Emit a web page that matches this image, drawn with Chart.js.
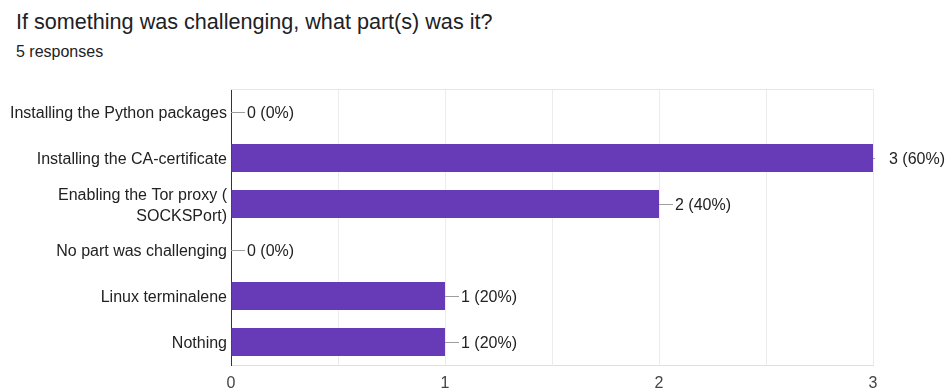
<!DOCTYPE html>
<html lang="en">
<head>
    <meta charset="UTF-8">
    <title>If something was challenging, what part(s) was it?</title>
    <script src="https://cdn.jsdelivr.net/npm/chart.js"></script>
    <style>
        * {
            margin: 0;
            padding: 0;
            box-sizing: border-box;
        }

        body {
            width: 947px;
            height: 390px;
            background: #fff;
            font-family: "Liberation Sans", Arial, sans-serif;
            position: relative;
            overflow: hidden;
        }

        .title {
            position: absolute;
            left: 16px;
            top: 9px;
            font-size: 21.6px;
            color: #202124;
        }

        .subtitle {
            position: absolute;
            left: 16px;
            top: 43px;
            font-size: 16px;
            color: #202124;
        }

        #chart {
            position: absolute;
            left: 0;
            top: 0;
        }
    </style>
</head>
<body>
    <div class="title">If something was challenging, what part(s) was it?</div>
    <div class="subtitle">5 responses</div>
    <canvas id="chart" width="947" height="390"></canvas>

    <script>
        const categories = [
            'Installing the Python packages',
            'Installing the CA-certificate',
            ['Enabling the Tor proxy (', 'SOCKSPort)'],
            'No part was challenging',
            'Linux terminalene',
            'Nothing'
        ];
        const counts = [0, 3, 2, 0, 1, 1];
        const percents = [0, 60, 40, 0, 20, 20];
        const xTicks = [0, 1, 2, 3];

        const labelFont = '"Liberation Sans", Arial, sans-serif';

        // value labels with a short leader line after each bar
        // (the leader is cut off at the right edge of the plot)
        const valueLabels = {
            id: 'valueLabels',
            afterDatasetsDraw(chart) {
                const ctx = chart.ctx;
                const right = chart.chartArea.right;
                const meta = chart.getDatasetMeta(0);
                ctx.save();
                ctx.font = '16px ' + labelFont;
                ctx.textBaseline = 'middle';
                meta.data.forEach((bar, i) => {
                    const x = bar.x;
                    const y = bar.y;
                    const end = Math.min(x + 14, right + 2);
                    ctx.strokeStyle = '#9e9e9e';
                    ctx.lineWidth = 1;
                    ctx.beginPath();
                    ctx.moveTo(x, y + 0.5);
                    ctx.lineTo(end, y + 0.5);
                    ctx.stroke();
                    ctx.fillStyle = '#222';
                    ctx.fillText(counts[i] + ' (' + percents[i] + '%)', x + 16, y + 2);
                });
                ctx.restore();
            }
        };

        // light frame line along the top of the plot
        const topLine = {
            id: 'topLine',
            beforeDatasetsDraw(chart) {
                const a = chart.chartArea;
                const ctx = chart.ctx;
                ctx.save();
                ctx.strokeStyle = '#e6e6e6';
                ctx.lineWidth = 1;
                ctx.beginPath();
                ctx.moveTo(a.left, a.top + 0.5);
                ctx.lineTo(a.right, a.top + 0.5);
                ctx.stroke();
                ctx.restore();
            }
        };

        new Chart(document.getElementById('chart'), {
            type: 'bar',
            data: {
                labels: categories,
                datasets: [{
                    data: counts,
                    backgroundColor: '#673ab7',
                    borderWidth: 0,
                    categoryPercentage: 1,
                    barPercentage: 0.61
                }]
            },
            options: {
                indexAxis: 'y',
                responsive: false,
                animation: false,
                layout: {
                    padding: { top: 89, right: 74, left: 0, bottom: 0 }
                },
                plugins: {
                    legend: { display: false },
                    tooltip: { enabled: false }
                },
                scales: {
                    x: {
                        min: xTicks[0],
                        max: xTicks[xTicks.length - 1],
                        afterFit(scale) { scale.height = 25; },
                        ticks: {
                            stepSize: 0.5,
                            autoSkip: false,
                            maxRotation: 0,
                            padding: 9,
                            color: '#444',
                            font: { family: labelFont, size: 16 },
                            callback: v => xTicks.includes(v) ? String(v) : ''
                        },
                        grid: {
                            color: '#ececec',
                            drawTicks: false
                        },
                        border: { display: true, color: '#e0e0e0' }
                    },
                    y: {
                        afterFit(scale) { scale.width = 231; },
                        ticks: {
                            padding: 4,
                            labelOffset: 2,
                            color: '#222',
                            font: { family: labelFont, size: 16, lineHeight: 1.3 }
                        },
                        grid: { display: false, drawTicks: false },
                        border: { display: true, color: '#333', width: 1 }
                    }
                }
            },
            plugins: [topLine, valueLabels]
        });
    </script>
</body>
</html>
